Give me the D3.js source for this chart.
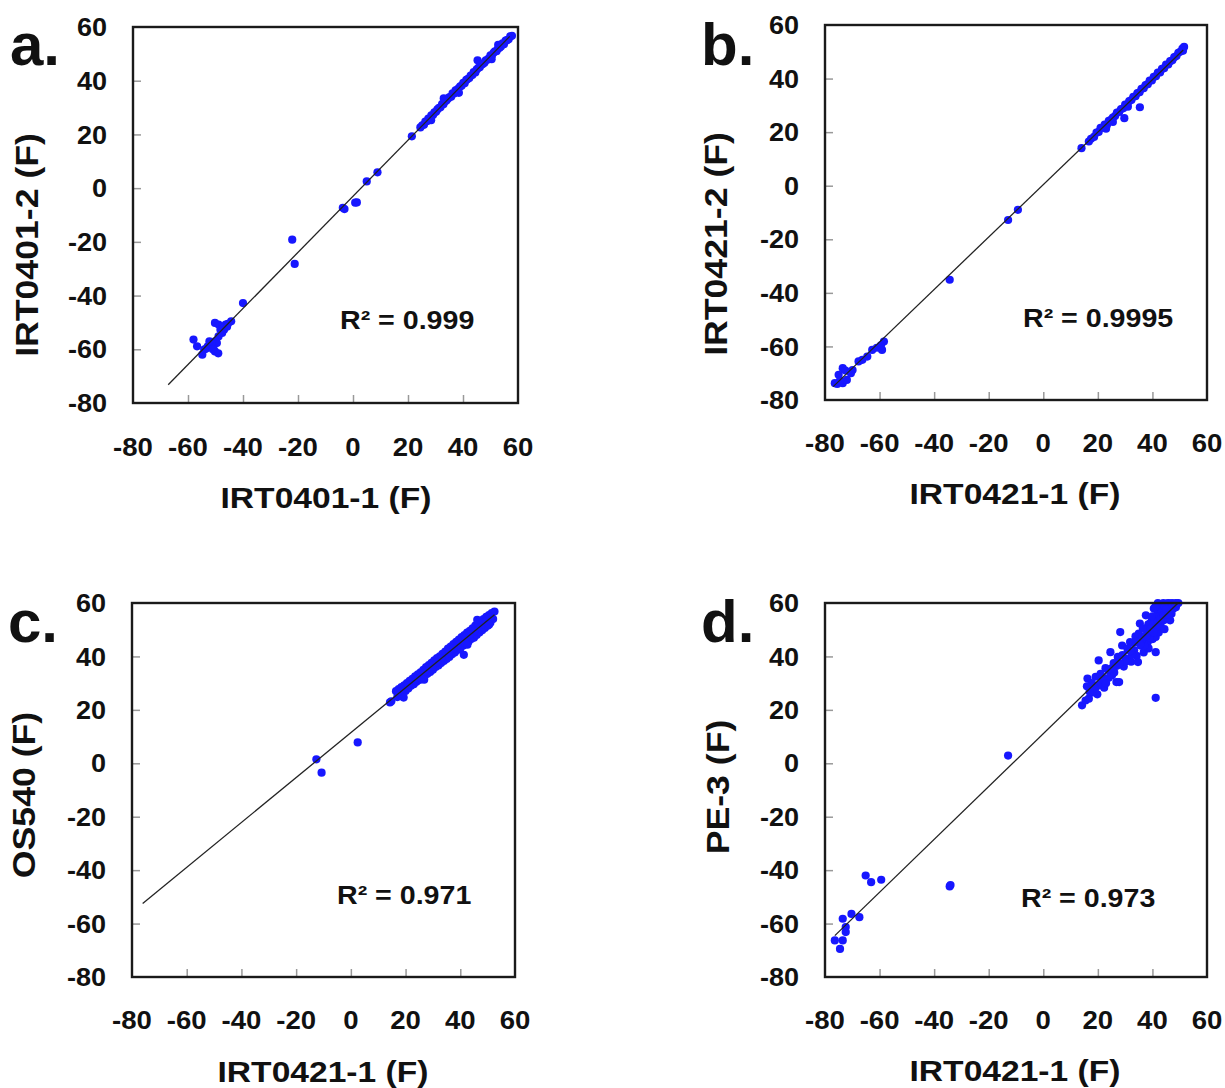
<!DOCTYPE html>
<html>
<head>
<meta charset="utf-8">
<script src="https://cdn.jsdelivr.net/npm/d3@7"></script>
<style>
  body { margin: 0; background: #fff; }
  text { font-family: "Liberation Sans", Arial, sans-serif; font-weight: bold; fill: #111; }
</style>
</head>
<body>
<svg id="chart" width="1225" height="1088"></svg>
<script>
// ---- data ----
const xTicks = [-80, -60, -40, -20, 0, 20, 40, 60];
const yTicks = [-80, -60, -40, -20, 0, 20, 40, 60];
const panelLetters = ['a.', 'b.', 'c.', 'd.'];
const xTitles = ['IRT0401-1 (F)', 'IRT0421-1 (F)', 'IRT0421-1 (F)', 'IRT0421-1 (F)'];
const yTitles = ['IRT0401-2 (F)', 'IRT0421-2 (F)', 'OS540 (F)', 'PE-3 (F)'];
const rSquared = ['0.999', '0.9995', '0.971', '0.973'];

// trend line end points [x, y]
const fitA = [[-67.2, -73.2], [57.0, 56.5]];
const fitB = [[-77.0, -75.0], [51.3, 50.7]];
const fitC = [[-76.1, -52.5], [52.5, 55.6]];
const fitD = [[-76.4, -64.5], [49.2, 59.8]];

const pointsA = [
  [24.5,22.6],[25.2,23.4],[25.8,23.6],[26.3,24.8],[26.9,24.9],[27.4,25.9],[28.0,26.0],[28.5,27.1],
  [29.1,27.2],[29.6,28.2],[30.2,28.4],[30.7,29.3],[31.3,29.9],[31.8,30.1],[32.4,31.3],[32.9,31.2],
  [33.5,32.4],[34.0,32.6],[34.6,33.4],[35.1,33.9],[35.7,34.0],[36.2,35.3],[36.8,35.2],[37.3,36.4],
  [37.9,36.6],[38.4,37.2],[39.0,37.9],[39.5,38.1],[40.1,39.2],[40.6,39.1],[41.2,40.3],[41.7,40.6],
  [42.3,41.0],[42.8,41.9],[43.4,42.1],[43.9,43.2],[44.5,43.1],[45.0,44.2],[45.6,44.8],[46.1,45.0],
  [46.7,45.9],[47.2,46.2],[47.8,46.7],[48.3,47.6],[48.9,47.8],[49.4,48.3],[50.0,49.4],[50.5,49.3],
  [51.1,50.4],[51.6,50.9],[52.2,51.0],[52.7,51.9],[53.3,52.3],[53.8,52.7],[54.4,53.9],[54.9,53.6],
  [55.5,54.9],[56.0,55.1],[56.6,55.4],[57.2,56.5],[57.8,56.7],
  [45.3,47.6],[50.4,48.0],[33.0,33.4],[28.4,25.3],[52.8,53.4],[38.5,35.5],
  [21.4,19.3],[8.9,5.9],[5.0,2.5],[1.4,-5.3],[0.8,-5.4],[-3.1,-7.8],[-3.7,-7.3],
  [-22.1,-19.2],[-21.2,-28.2],[-40.0,-42.8],
  [-44.3,-49.6],[-45.5,-50.5],[-46.3,-50.8],[-48.9,-50.8],[-50.2,-50.2],[-48.2,-52.7],[-46.9,-52.7],
  [-47.6,-53.9],[-48.9,-55.2],[-50.2,-57.0],[-49.5,-57.7],[-51.5,-57.7],[-52.8,-58.9],[-54.1,-60.1],
  [-54.8,-62.0],[-50.2,-60.8],[-58.0,-56.4],[-56.7,-58.9],[-50.8,-59.5],[-52.2,-57.0],[-53.5,-59.8],
  [-49.0,-61.5],[-51.0,-60.0],[-47.0,-52.0],[-45.8,-51.6]
];

const pointsB = [
  [14.0,14.0],[16.7,16.5],[17.5,17.5],[18.6,18.2],[19.5,19.8],[20.3,20.1],[21.0,21.6],[21.8,21.7],
  [22.5,22.8],[23.3,22.6],[24.0,24.2],[24.8,24.6],[25.5,25.4],[26.3,26.0],[27.0,27.3],[27.8,27.5],
  [28.5,28.6],[29.3,28.9],[30.0,30.3],[30.8,30.4],[31.5,31.6],[32.3,32.0],[33.0,33.2],[33.8,33.4],
  [34.5,34.6],[35.3,34.9],[36.0,36.2],[36.8,36.4],[37.5,37.6],[38.3,37.9],[39.0,39.2],[39.8,39.3],
  [40.5,40.6],[41.3,40.9],[42.0,42.2],[42.8,42.3],[43.5,43.6],[44.3,43.9],[45.0,45.2],[45.8,45.3],
  [46.5,46.5],[47.3,46.8],[48.0,48.0],[48.8,48.4],[49.5,49.6],[50.3,50.1],[51.0,51.2],[51.6,51.8],
  [51.2,50.4],
  [29.7,25.2],[35.4,29.3],[23.0,21.3],[25.5,23.8],[31.0,29.5],
  [-12.9,-12.8],[-9.3,-9.0],[-34.3,-35.1],
  [-58.4,-58.2],[-59.1,-61.3],[-62.7,-61.3],[-61.0,-60.5],[-66.3,-65.0],[-67.7,-65.6],[-69.9,-68.8],
  [-73.5,-68.1],[-72.5,-69.0],[-75.0,-70.6],[-76.4,-73.7],[-75.5,-74.0],[-73.5,-73.7],[-72.0,-72.5],
  [-74.5,-72.8],[-70.5,-70.0],[-64.5,-63.8],[-59.5,-59.6]
];

const pointsC = [
  [16.5,27.0],[17.0,24.8],[17.5,27.8],[18.0,26.0],[18.5,28.5],[19.0,25.0],[19.5,29.2],[20.0,27.1],
  [20.5,30.0],[21.0,28.0],[21.5,30.9],[22.0,29.0],[22.5,31.6],[23.0,29.6],[23.5,32.5],[24.0,30.5],
  [24.5,33.3],[25.0,31.2],[25.5,34.0],[26.0,31.5],[26.5,35.0],[27.0,32.8],[27.5,36.0],[28.0,33.5],
  [28.5,36.8],[29.0,34.2],[29.5,37.6],[30.0,35.0],[30.5,38.5],[31.0,36.0],[31.5,39.4],[32.0,36.6],
  [32.5,40.0],[33.0,37.5],[33.5,41.0],[34.0,38.3],[34.5,41.8],[35.0,39.0],[35.5,42.9],[36.0,39.8],
  [36.5,43.7],[37.0,40.8],[37.5,44.6],[38.0,41.5],[38.5,45.5],[39.0,42.4],[39.5,46.3],[40.0,43.0],
  [40.5,47.2],[41.0,44.0],[41.5,48.0],[42.0,44.6],[42.5,48.9],[43.0,45.5],[43.5,49.6],[44.0,46.5],
  [44.5,50.5],[45.0,47.0],[45.5,51.5],[46.0,48.0],[46.5,52.2],[47.0,49.0],[47.5,53.0],[48.0,49.8],
  [48.5,54.0],[49.0,50.6],[49.5,54.8],[50.0,51.5],[50.5,55.5],[51.0,52.6],[51.5,56.2],[52.0,54.0],
  [52.5,56.8],
  [18.0,26.8],[21.0,29.3],[24.0,31.7],[27.0,34.3],[30.0,36.8],[33.0,39.3],[36.0,41.8],[39.0,44.3],
  [42.0,46.9],[45.0,49.4],[48.0,51.9],[51.0,54.4],[25.5,32.0],[31.5,37.8],[37.5,43.1],[43.5,48.2],
  [49.5,53.2],[46.2,53.7],[50.5,51.9],[42.6,44.4],[41.3,40.6],[26.8,31.3],[19.3,24.6],
  [-12.6,1.5],[-10.7,-3.5],[2.5,7.8],[14.3,22.8],[14.8,23.2]
];

const pointsD = [
  [14.2,21.7],[15.5,23.5],[16.2,31.7],[16.7,24.2],[17.3,28.5],[17.8,30.0],[18.8,27.9],[19.2,32.4],
  [19.8,25.8],[20.3,38.5],[20.8,29.6],[21.7,32.3],[22.3,28.3],[22.8,35.6],[23.9,34.8],[24.6,41.6],
  [25.2,33.0],[25.8,37.5],[26.8,30.4],[27.3,39.8],[27.8,30.4],[28.2,49.1],[28.9,44.1],[29.5,36.2],
  [30.4,39.2],[30.9,42.5],[31.8,45.4],[32.2,38.0],[33.3,42.3],[33.8,47.5],[34.2,40.2],[34.7,37.9],
  [35.4,52.3],[35.8,44.0],[36.2,47.3],[36.8,41.5],[37.6,55.4],[37.9,49.8],[38.3,45.4],[38.6,43.0],
  [39.0,49.8],[39.4,52.6],[39.8,53.5],[40.1,46.5],[40.5,57.9],[40.8,50.5],[41.2,47.3],[41.2,41.6],
  [41.5,54.0],[41.9,56.0],[42.3,49.0],[42.7,51.6],[43.0,58.4],[43.4,59.1],[43.7,55.0],[44.1,53.5],
  [44.4,50.2],[44.8,57.3],[45.2,59.8],[45.5,55.5],[46.0,57.0],[46.3,59.8],[46.8,58.2],[47.2,60.0],
  [47.7,57.9],[48.2,59.6],[48.6,58.4],[49.1,59.8],[49.5,60.0],[42.0,60.0],[44.0,60.0],[40.0,55.0],
  [38.5,52.0],[36.5,50.5],[35.0,48.5],[33.0,45.0],[31.0,43.0],[29.0,40.5],[27.0,36.5],[26.0,34.0],
  [24.0,32.0],[22.0,30.5],[20.0,29.0],[18.0,26.5],[30.0,38.0],[32.5,40.8],[37.0,44.0],[39.0,47.0],
  [43.0,52.5],[45.0,54.0],[47.0,56.0],[46.5,53.5],[41.2,24.5],
  [40.3,52.0],[41.0,58.5],[42.5,55.0],[43.5,56.8],[44.5,58.6],[45.8,60.0],[46.5,58.0],[47.5,59.0],
  [48.5,60.0],[42.0,53.0],[43.0,54.0],[39.5,50.5],[38.0,48.0],[36.0,46.0],[34.0,45.5],[44.0,55.5],
  [45.0,57.5],[46.0,55.5],[41.5,51.0],[40.5,49.0],[37.5,47.5],[35.5,44.5],[32.0,42.0],[28.0,37.5],
  [25.0,35.5],[23.0,30.0],[21.0,33.5],[19.0,28.0],[17.0,26.8],[16.0,28.8],
  [-12.9,2.9],[-34.3,-46.1],[-34.0,-45.6],
  [-65.1,-42.0],[-63.1,-44.5],[-59.4,-43.6],
  [-76.4,-66.3],[-74.5,-69.5],[-73.5,-66.3],[-73.5,-58.2],[-72.4,-61.3],[-72.4,-63.2],[-70.3,-56.4],
  [-67.4,-57.6]
];

// ---- layout ----
const panels = [
  { pts: pointsA, fit: fitA, box: [133, 27, 518, 403], letter: [10, 65], yTitle: [27, 245], xTitle: [326, 497], tickY: 447, r2: [340, 320] },
  { pts: pointsB, fit: fitB, box: [825, 25, 1207, 400], letter: [701, 65], yTitle: [716, 244], xTitle: [1015, 493], tickY: 443, r2: [1023, 318] },
  { pts: pointsC, fit: fitC, box: [132, 603, 515, 977], letter: [8, 642], yTitle: [24, 795], xTitle: [323, 1071], tickY: 1020, r2: [337, 895] },
  { pts: pointsD, fit: fitD, box: [825, 603, 1207, 977], letter: [701, 642], yTitle: [718, 787], xTitle: [1015, 1070], tickY: 1020, r2: [1021, 898] }
];

const svg = d3.select('#chart');

function label(g, x, y, str, size, anchor, sx, rotate) {
  return g.append('text')
    .attr('transform', `translate(${x},${y})` + (rotate ? ` rotate(${rotate})` : '') + ` scale(${sx},1)`)
    .attr('text-anchor', anchor)
    .attr('dy', '0.35em')
    .style('font-size', size + 'px')
    .text(str);
}

panels.forEach((p, i) => {
  const [x0, y0, x1, y1] = p.box;
  const x = d3.scaleLinear().domain([-80, 60]).range([x0, x1]);
  const y = d3.scaleLinear().domain([-80, 60]).range([y1, y0]);
  const g = svg.append('g');

  // inward tick marks
  const xAxis = g.append('g')
    .attr('transform', `translate(0,${y1})`)
    .call(d3.axisBottom(x).tickValues(xTicks.slice(1, -1)).tickSize(-8).tickFormat(''));
  const yAxis = g.append('g')
    .attr('transform', `translate(${x0},0)`)
    .call(d3.axisLeft(y).tickValues(yTicks.slice(1, -1)).tickSize(-8).tickFormat(''));
  [xAxis, yAxis].forEach(a => {
    a.select('.domain').remove();
    a.selectAll('line').attr('stroke', '#999').attr('stroke-width', 1.5);
  });

  // tick labels
  xTicks.forEach(v => label(g, x(v), p.tickY, String(v), 26, 'middle', 1.06));
  yTicks.forEach(v => label(g, x0 - 26, y(v), String(v), 26, 'end', 1.04));

  // points
  g.append('g').selectAll('circle')
    .data(p.pts)
    .join('circle')
    .attr('cx', d => x(d[0]))
    .attr('cy', d => y(d[1]))
    .attr('r', 4.1)
    .attr('fill', '#1717ff');

  // trend line
  g.append('line')
    .attr('x1', x(p.fit[0][0])).attr('y1', y(p.fit[0][1]))
    .attr('x2', x(p.fit[1][0])).attr('y2', y(p.fit[1][1]))
    .attr('stroke', '#222').attr('stroke-width', 1.3);

  // frame
  g.append('rect')
    .attr('x', x0).attr('y', y0)
    .attr('width', x1 - x0).attr('height', y1 - y0)
    .attr('fill', 'none').attr('stroke', '#1a1a1a').attr('stroke-width', 2.4);

  // titles
  label(g, p.xTitle[0], p.xTitle[1], xTitles[i], 30, 'middle', 1.12);
  label(g, p.yTitle[0], p.yTitle[1], yTitles[i], 31, 'middle', 1.15, -90);
  label(g, p.r2[0], p.r2[1], `R² = ${rSquared[i]}`, 26, 'start', 1.1);

  g.append('text')
    .attr('x', p.letter[0]).attr('y', p.letter[1])
    .style('font-size', '60px')
    .text(panelLetters[i]);
});
</script>
</body>
</html>
